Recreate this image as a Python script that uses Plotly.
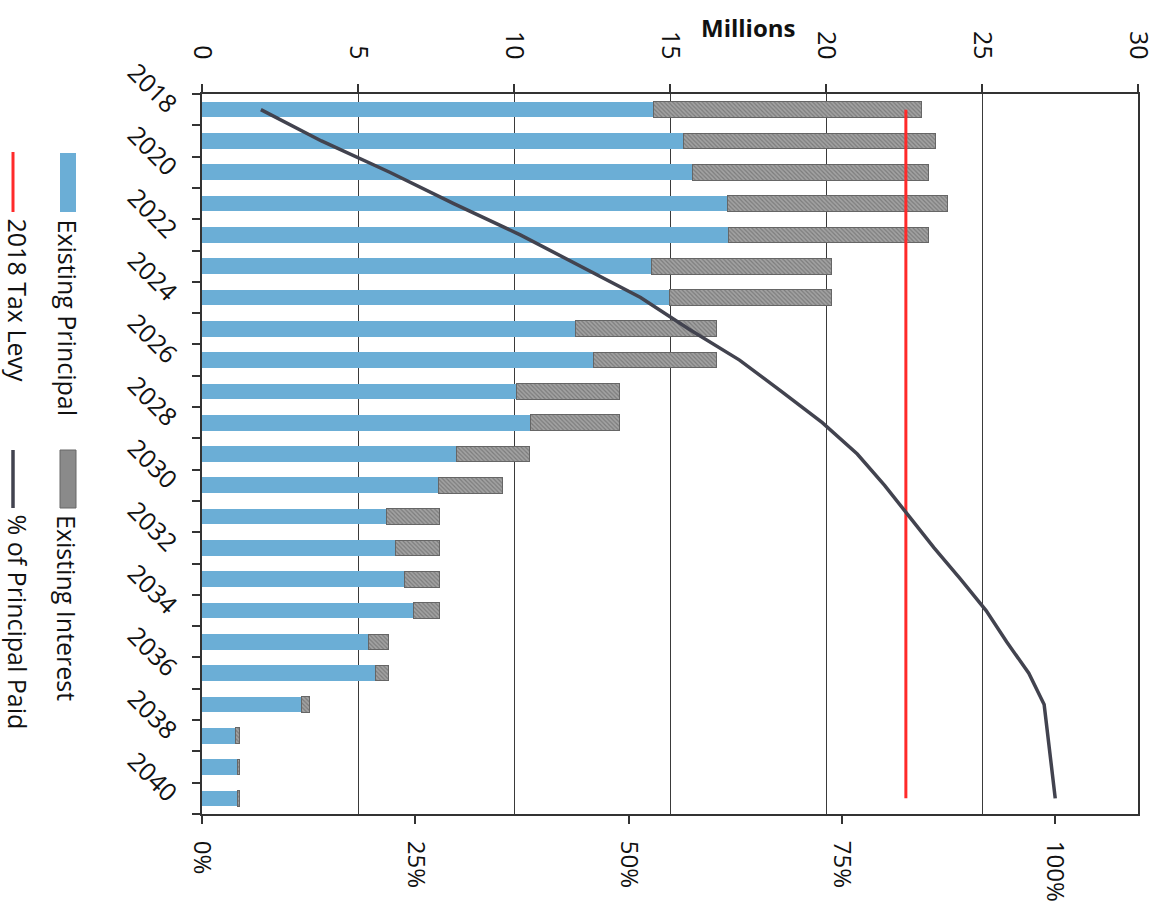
import plotly.graph_objects as go

# ---- data (millions of dollars per year) ----
years = list(range(2018, 2041))
principal = [14.47, 15.42, 15.72, 16.85, 16.87, 14.42, 14.99, 11.96, 12.54, 10.07,
             10.52, 8.15, 7.57, 5.91, 6.20, 6.48, 6.77, 5.33, 5.56, 3.18,
             1.07, 1.13, 1.13]
interest = [8.58, 8.08, 7.57, 7.03, 6.43, 5.75, 5.18, 4.52, 3.94, 3.30,
            2.85, 2.34, 2.05, 1.69, 1.40, 1.12, 0.83, 0.64, 0.41, 0.26,
            0.13, 0.07, 0.07]
pct_principal_paid = [0.069, 0.140, 0.220, 0.295, 0.373, 0.443, 0.514, 0.570, 0.630, 0.679,
                      0.727, 0.768, 0.800, 0.829, 0.858, 0.889, 0.919, 0.943, 0.969, 0.987,
                      0.991, 0.995, 1.000]
tax_levy_2018 = 22.56
year_ticks = list(range(2018, 2041, 2))
million_ticks = [0, 5, 10, 15, 20, 25, 30]
pct_ticks = [0, 0.25, 0.5, 0.75, 1.0]
pct_labels = ["0%", "25%", "50%", "75%", "100%"]

# ---- styling ----
W, H = 1159, 907
ML, MR, MT, MB = 202, 21, 94, 93
FONT = "Open Sans"
BLUE = "#6BAED6"
RED = "#FF2A2A"
DARK = "#42434F"
AXIS = "#333333"

fig = go.Figure()

fig.add_trace(go.Bar(
    name="Existing Principal", y=years, x=principal, orientation="h",
    width=0.5, marker=dict(color=BLUE, line=dict(width=0)),
    xaxis="x", yaxis="y"))
fig.add_trace(go.Bar(
    name="Existing Interest", y=years, x=interest, orientation="h",
    width=0.5,
    marker=dict(color="#a2a2a2", line=dict(width=1, color="#666666"),
                pattern=dict(shape="\\", fgcolor="#555555", bgcolor="#a2a2a2",
                             size=3, solidity=0.4)),
    xaxis="x", yaxis="y"))
fig.add_trace(go.Scatter(
    name="2018 Tax Levy", y=years, x=[tax_levy_2018] * len(years), mode="lines",
    line=dict(color=RED, width=3), xaxis="x", yaxis="y"))
fig.add_trace(go.Scatter(
    name="% of Principal Paid", y=years, x=pct_principal_paid, mode="lines",
    line=dict(color=DARK, width=3.5), xaxis="x2", yaxis="y"))

plot_w = W - ML - MR
plot_h = H - MT - MB


def px(x):
    return (x - ML) / plot_w


def py(y):
    return (H - MB - y) / plot_h


shapes = []
annotations = []

# legend drawn with rotated text
shapes.append(dict(type="rect", xref="paper", yref="paper",
                   x0=px(60), x1=px(76), y0=py(212), y1=py(153),
                   fillcolor=BLUE, line=dict(width=0)))
shapes.append(dict(type="rect", xref="paper", yref="paper",
                   x0=px(60), x1=px(76), y0=py(508), y1=py(450),
                   fillcolor="#8a8a8a", line=dict(width=1, color="#666666")))
shapes.append(dict(type="line", xref="paper", yref="paper",
                   x0=px(13), x1=px(13), y0=py(212), y1=py(152),
                   line=dict(color=RED, width=3)))
shapes.append(dict(type="line", xref="paper", yref="paper",
                   x0=px(13), x1=px(13), y0=py(508), y1=py(450),
                   line=dict(color=DARK, width=3.5)))

legend_text = [
    ("Existing Principal", 67, 217),
    ("Existing Interest", 67, 513),
    ("2018 Tax Levy", 18, 216),
    ("% of Principal Paid", 18, 512),
]
for txt, x, y in legend_text:
    annotations.append(dict(text=txt, xref="paper", yref="paper", x=px(x), y=py(y),
                            xanchor="center", yanchor="top", textangle=90,
                            showarrow=False, font=dict(family=FONT, size=25, color="#111")))

annotations.append(dict(text="<b>Millions</b>", xref="paper", yref="paper",
                        x=px(748), y=py(27), xanchor="center", yanchor="middle",
                        showarrow=False, font=dict(family=FONT, size=24, color="#111")))

fig.update_layout(
    width=W, height=H,
    margin=dict(l=ML, r=MR, t=MT, b=MB, pad=0, autoexpand=False),
    paper_bgcolor="white", plot_bgcolor="white",
    barmode="stack", bargap=0.5, showlegend=False,
    font=dict(family=FONT, size=25, color="#111"),
    xaxis=dict(side="top", range=[0, 30], tickvals=million_ticks,
               showgrid=True, gridcolor="#3a3a3a", gridwidth=1,
               ticks="outside", ticklen=8, tickcolor=AXIS, tickwidth=1.5,
               tickangle=90, tickfont=dict(size=25), ticklabelstandoff=16,
               showline=True, linecolor=AXIS, linewidth=1.5, mirror=True,
               zeroline=False, automargin=False),
    xaxis2=dict(overlaying="x", side="bottom", range=[0, 1.097],
                tickvals=pct_ticks, ticktext=pct_labels,
                showgrid=False, zeroline=False,
                ticks="outside", ticklen=9, tickcolor=AXIS, tickwidth=1.5,
                tickangle=90, tickfont=dict(size=24), ticklabelstandoff=12,
                automargin=False),
    yaxis=dict(range=[2040.5, 2017.5], tickvals=year_ticks,
               ticks="", tickangle=45, tickfont=dict(size=25),
               ticklabelstandoff=20,
               showgrid=False, zeroline=False,
               showline=True, linecolor=AXIS, linewidth=1.5, mirror=True,
               automargin=False,
               minor=dict(tickvals=[y - 0.5 for y in years] + [years[-1] + 0.5],
                          ticks="outside", ticklen=8, tickcolor=AXIS, tickwidth=1.5,
                          showgrid=False)),
    shapes=shapes,
    annotations=annotations,
)

fig.write_html("out.html")
